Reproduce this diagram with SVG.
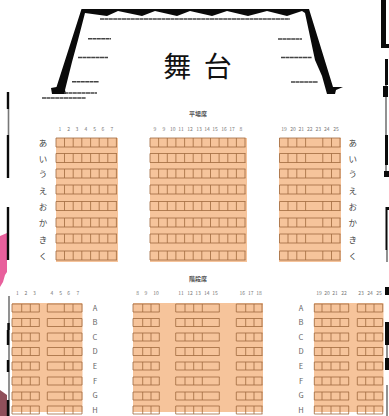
<svg xmlns="http://www.w3.org/2000/svg" width="389" height="416" viewBox="0 0 389 416">
<style>
.b{fill:#f6c49b}
.s{fill:none;stroke:#a06a3e;stroke-width:1;stroke-opacity:.8}
.k{fill:#0a0a0a}
.l{fill:none;stroke:#444;stroke-width:1.5;stroke-dasharray:4 .4}
.e{fill:none;stroke:#0a0a0a;stroke-width:2.4}
.g{fill:none;stroke:#777;stroke-width:1.6}
text{font-family:"Noto Sans CJK JP","Liberation Sans",sans-serif;text-anchor:middle}
.n{font-size:5px;fill:#777;font-family:"Liberation Sans",sans-serif}
.h{font-size:8.5px;fill:#444}
.a{font-size:7.5px;fill:#666;font-family:"Liberation Sans",sans-serif}
.t{font-size:6px;fill:#555;font-weight:700}
</style>
<defs>
<path id="r1" class="s" d="M56 0H117M56 9H117M56 0V9M64.5 0V9M73.2 0V9M81.8 0V9M90.6 0V9M99.2 0V9M107.8 0V9M116.4 0V9"/>
<path id="r2" class="s" d="M150 0H245.5M150 9H245.5M150 0V9M158.6 0V9M167.3 0V9M175.9 0V9M184.6 0V9M193.2 0V9M201.8 0V9M210.5 0V9M219.1 0V9M227.8 0V9M236.4 0V9M245 0V9"/>
<path id="r3" class="s" d="M279.5 0H340.5M279.5 9H340.5M279.5 0V9M288 0V9M296.8 0V9M305.6 0V9M322.8 0V9M331.5 0V9M340 0V9"/>
<path id="q1" class="s" d="M12 0H39.5M12 8H39.5M12 0V8M21.7 0V8M30.3 0V8M39.3 0V8M47.3 0H82M47.3 8H82M47.3 0V8M64.3 0V8M73 0V8M82 0V8"/>
<path id="q2" class="s" d="M133 0H159.5M133 8H159.5M133 0V8M142.7 0V8M151 0V8M159.3 0V8M175.7 0H219.5M175.7 8H219.5M175.7 0V8M185 0V8M193.7 0V8M202.3 0V8M219.3 0V8M236.3 0H262.5M236.3 8H262.5M236.3 0V8M245.7 0V8M254 0V8M262 0V8"/>
<path id="q3" class="s" d="M314.3 0H349M314.3 8H349M314.3 0V8M322 0V8M331 0V8M340 0V8M348.7 0V8M357.3 0H382.7M357.3 8H382.7M357.3 0V8M374 0V8M365.700 0V8M382.7 0V8"/>
</defs>

<g id="edges">
<path d="M0 236L7 233V272L5 275L3 282L0 287Z" fill="#e8609c"/>
<path d="M0 390L7 395V416H0Z" fill="#8f4f5a"/>
<path class="e" d="M8 92V109M8 135V178M8 207V260"/>
<path class="g" d="M8.500 109V135M9 296V416"/>
<path class="e" d="M8.500 323V330M8 330V345M8 360V372M8 400V416"/>
<path class="k" d="M381 0H386V44H389V48H381Z"/>
<path class="g" d="M386 59V172M387 250V262M387 345V360M387 385V416"/>
<path class="k" d="M385 59H388V85H385ZM383 97V86H388V97ZM385 135H388V165H385ZM384 171H389V177H384ZM385.500 207H389V210H387.500V250H385.500ZM385 287H389V295H385ZM385 322H389V345H385ZM385 358H389V370H385Z"/>
</g>

<g id="stage">
<path class="k" d="M81.500 9H309L333 87H343L336 90L335 94H327L322 76L315 60L305 13L302 11L287 16L267 11L248 16L227 11L212 16L190 11L177 16L155 11L142 16L118 11L107 16L85 13L78 40L72 62L65 90L66 94H52L51 88L56.500 87Z"/>
<path class="l" d="M100 19H290M88 38.700H111M78 57.500H108M72 81.700H99M64 93H97M42 98H86M278 39H302M281 57.500H312M291 82H318"/>
<text x="197.500" y="77" font-size="28" fill="#111" xml:space="preserve">舞  台</text>
</g>

<g id="flat-seats">
<rect class="b" x="56" y="138" width="62" height="124"/>
<rect class="b" x="150" y="138" width="97" height="124"/>
<rect class="b" x="279" y="138" width="62" height="124"/>
<use href="#r1" y="138"/><use href="#r1" y="153.500"/><use href="#r1" y="169"/><use href="#r1" y="185"/><use href="#r1" y="201.500"/><use href="#r1" y="218"/><use href="#r1" y="234"/><use href="#r1" y="251"/>
<use href="#r2" y="138"/><use href="#r2" y="153.500"/><use href="#r2" y="169"/><use href="#r2" y="185"/><use href="#r2" y="201.500"/><use href="#r2" y="218"/><use href="#r2" y="234"/><use href="#r2" y="251"/>
<use href="#r3" y="138"/><use href="#r3" y="153.500"/><use href="#r3" y="169"/><use href="#r3" y="185"/><use href="#r3" y="201.500"/><use href="#r3" y="218"/><use href="#r3" y="234"/><use href="#r3" y="251"/>
<text class="t" x="198" y="116">平場席</text>
<g class="n">
<text x="60" y="131">1</text><text x="68.700" y="131">2</text><text x="77" y="131">3</text><text x="86" y="131">4</text><text x="94.700" y="131">5</text><text x="103" y="131">6</text><text x="112" y="131">7</text>
<text x="155" y="131">9</text><text x="164" y="131">9</text><text x="172.700" y="131">10</text><text x="181" y="131">11</text><text x="190" y="131">12</text><text x="199" y="131">13</text><text x="207" y="131">14</text><text x="215" y="131">15</text><text x="224" y="131">16</text><text x="232" y="131">17</text><text x="241" y="131">8</text>
<text x="284" y="131">19</text><text x="293" y="131">20</text><text x="301.300" y="131">21</text><text x="309.700" y="131">22</text><text x="318.300" y="131">23</text><text x="326.700" y="131">24</text><text x="336" y="131">25</text>
</g>
<g class="h">
<text x="43" y="146">あ</text><text x="43" y="162">い</text><text x="43" y="177">う</text><text x="43" y="194">え</text><text x="43" y="210">お</text><text x="43" y="226">か</text><text x="43" y="243">き</text><text x="43" y="259">く</text>
<text x="352.700" y="146">あ</text><text x="352.700" y="162">い</text><text x="352.700" y="177">う</text><text x="352.700" y="194">え</text><text x="352.700" y="210">お</text><text x="352.700" y="226">か</text><text x="352.700" y="243">き</text><text x="352.700" y="259">く</text>
</g>
</g>

<g id="step-seats">
<rect class="b" x="12" y="303" width="70.500" height="109"/>
<rect class="b" x="133" y="303" width="130" height="109"/>
<rect class="b" x="314" y="303" width="69.500" height="109"/>
<use href="#q1" y="304"/><use href="#q1" y="318.500"/><use href="#q1" y="333"/><use href="#q1" y="347.500"/><use href="#q1" y="362"/><use href="#q1" y="377"/><use href="#q1" y="392"/><use href="#q1" y="406"/>
<use href="#q2" y="304"/><use href="#q2" y="318.500"/><use href="#q2" y="333"/><use href="#q2" y="347.500"/><use href="#q2" y="362"/><use href="#q2" y="377"/><use href="#q2" y="392"/><use href="#q2" y="406"/>
<use href="#q3" y="304"/><use href="#q3" y="318.500"/><use href="#q3" y="333"/><use href="#q3" y="347.500"/><use href="#q3" y="362"/><use href="#q3" y="377"/><use href="#q3" y="392"/><use href="#q3" y="406"/>
<text class="t" x="198" y="281">階段席</text>
<g class="n">
<text x="17.300" y="295">1</text><text x="26" y="295">2</text><text x="34.300" y="295">3</text><text x="52" y="295">4</text><text x="60.700" y="295">5</text><text x="68.700" y="295">6</text><text x="78" y="295">7</text>
<text x="137.700" y="295">8</text><text x="146" y="295">9</text><text x="156" y="295">10</text><text x="181" y="295">11</text><text x="190" y="295">12</text><text x="198" y="295">13</text><text x="206.700" y="295">14</text><text x="215" y="295">15</text><text x="242.300" y="295">16</text><text x="250.700" y="295">17</text><text x="259" y="295">18</text>
<text x="319" y="295">19</text><text x="327" y="295">20</text><text x="335" y="295">21</text><text x="344" y="295">22</text><text x="361" y="295">23</text><text x="370" y="295">24</text><text x="379" y="295">25</text>
</g>
<g class="a">
<text x="95" y="310.500">A</text><text x="95" y="325">B</text><text x="95" y="339.500">C</text><text x="95" y="354">D</text><text x="95" y="368.500">E</text><text x="95" y="383.500">F</text><text x="95" y="398">G</text><text x="95" y="412.500">H</text>
<text x="301" y="310.500">A</text><text x="301" y="325">B</text><text x="301" y="339.500">C</text><text x="301" y="354">D</text><text x="301" y="368.500">E</text><text x="301" y="383.500">F</text><text x="301" y="398">G</text><text x="301" y="412.500">H</text>
</g>
</g>
</svg>
